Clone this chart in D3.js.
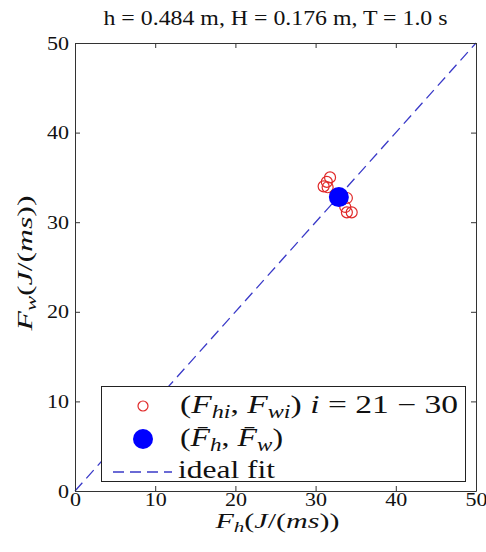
<!DOCTYPE html>
<html><head><meta charset="utf-8">
<script src="https://cdn.jsdelivr.net/npm/d3@7"></script>
<style>body{margin:0;background:#fff}svg{display:block}</style>
</head><body>
<script>
const titleText = "h = 0.484 m, H = 0.176 m, T = 1.0 s";
const ticks = [0, 10, 20, 30, 40, 50];
const fh = [31.8, 31.4, 31.0, 31.5, 33.9, 33.7, 33.9, 34.5, 32.5, 33.0];
const fw = [35.0, 34.5, 34.0, 33.9, 32.7, 31.7, 31.1, 31.1, 33.1, 32.5];
const meanFh = [32.9];
const meanFw = [32.8];
const idealFit = [[0, 0], [50, 50]];

const W = 486, H = 552;
const m = {l: 75, r: 10, t: 43, b: 61};
const svg = d3.select("body").append("svg").attr("width", W).attr("height", H);
const x = d3.scaleLinear().domain([0, 50]).range([m.l, W - m.r]);
const y = d3.scaleLinear().domain([0, 50]).range([H - m.b, m.t]);
const serif = "Liberation Serif, Tinos, Times New Roman, DejaVu Serif, serif";

// title
svg.append("text").attr("x", (x(0) + x(50)) / 2).attr("y", 25)
  .attr("text-anchor", "middle").style("font-family", serif).attr("font-size", 22)
  .attr("textLength", 344).attr("lengthAdjust", "spacingAndGlyphs")
  .attr("fill", "#111").text(titleText);

// ideal fit line
svg.append("path").datum(idealFit)
  .attr("d", d3.line().x(d => x(d[0])).y(d => y(d[1])))
  .attr("stroke", "#3a3ac8").attr("stroke-width", 1.3).attr("fill", "none")
  .attr("stroke-dasharray", "11,6");

// data
const pts = fh.map((v, i) => [v, fw[i]]);
svg.append("g").selectAll("circle").data(pts).join("circle")
  .attr("cx", d => x(d[0])).attr("cy", d => y(d[1])).attr("r", 5.5)
  .attr("fill", "none").attr("stroke", "#e02a2a").attr("stroke-width", 1.2);
svg.append("g").selectAll("circle").data(meanFh.map((v, i) => [v, meanFw[i]])).join("circle")
  .attr("cx", d => x(d[0])).attr("cy", d => y(d[1])).attr("r", 10)
  .attr("fill", "#0000ff");

// axes
const tk = 5;
const axB = svg.append("g").attr("transform", `translate(0,${y(0)})`)
  .call(d3.axisBottom(x).tickValues(ticks).tickSizeInner(-tk).tickSizeOuter(0).tickPadding(1));
const axL = svg.append("g").attr("transform", `translate(${x(0)},0)`)
  .call(d3.axisLeft(y).tickValues(ticks).tickSizeInner(-tk).tickSizeOuter(0).tickPadding(6));
const axT = svg.append("g").attr("transform", `translate(0,${y(50)})`)
  .call(d3.axisTop(x).tickValues(ticks).tickSizeInner(-tk).tickSizeOuter(0).tickFormat(""));
const axR = svg.append("g").attr("transform", `translate(${x(50)},0)`)
  .call(d3.axisRight(y).tickValues(ticks).tickSizeInner(-tk).tickSizeOuter(0).tickFormat(""));
[axB, axL, axT, axR].forEach(a => {
  a.attr("font-family", null);
  a.select(".domain").attr("stroke", "#333");
  a.selectAll(".tick line").attr("stroke", "#333");
  a.selectAll("text").style("font-family", serif).attr("font-size", 19).attr("fill", "#111")
    .attr("textLength", function() { return this.textContent.length * 11; })
    .attr("lengthAdjust", "spacingAndGlyphs");
});
axB.selectAll("text").attr("dy", "0.71em");

// axis labels
const xl = svg.append("text").attr("x", (x(0) + x(50)) / 2 + 2).attr("y", 528)
  .attr("text-anchor", "middle").style("font-family", serif).attr("font-size", 20).attr("fill", "#111")
  .attr("textLength", 124).attr("lengthAdjust", "spacingAndGlyphs");
xl.append("tspan").attr("font-style", "italic").text("F");
xl.append("tspan").attr("font-style", "italic").attr("font-size", 14).attr("dy", 4).text("h");
xl.append("tspan").attr("dy", -4).text("(");
xl.append("tspan").attr("font-style", "italic").text("J");
xl.append("tspan").text("/(");
xl.append("tspan").attr("font-style", "italic").text("ms");
xl.append("tspan").text("))");

const yl = svg.append("text").attr("transform", `translate(32,${(y(0) + y(50)) / 2 - 4}) rotate(-90)`)
  .attr("text-anchor", "middle").style("font-family", serif).attr("font-size", 21).attr("fill", "#111")
  .attr("textLength", 135).attr("lengthAdjust", "spacingAndGlyphs");
yl.append("tspan").attr("font-style", "italic").text("F");
yl.append("tspan").attr("font-style", "italic").attr("font-size", 15).attr("dy", 4).text("w");
yl.append("tspan").attr("dy", -4).text("(");
yl.append("tspan").attr("font-style", "italic").text("J");
yl.append("tspan").text("/(");
yl.append("tspan").attr("font-style", "italic").text("ms");
yl.append("tspan").text("))");

// legend
const lg = svg.append("g");
lg.append("rect").attr("x", 101.5).attr("y", 386.5).attr("width", 364).attr("height", 95)
  .attr("fill", "#fff").attr("stroke", "#222").attr("stroke-width", 1);
const rows = [406, 439, 472];
const base = [413, 445.5, 478];
lg.append("circle").attr("cx", 143).attr("cy", rows[0]).attr("r", 5)
  .attr("fill", "none").attr("stroke", "#e02a2a").attr("stroke-width", 1.2);
lg.append("circle").attr("cx", 143).attr("cy", rows[1]).attr("r", 10).attr("fill", "#0000ff");
lg.append("line").attr("x1", 113).attr("x2", 172).attr("y1", rows[2]).attr("y2", rows[2])
  .attr("stroke", "#3a3ac8").attr("stroke-width", 1.3).attr("stroke-dasharray", "11,6");

const fs = 25;
const t1 = lg.append("text").attr("x", 180).attr("y", base[0])
  .style("font-family", serif).attr("font-size", fs).attr("fill", "#111")
  .attr("textLength", 278).attr("lengthAdjust", "spacingAndGlyphs");
t1.append("tspan").text("(");
t1.append("tspan").attr("font-style", "italic").text("F");
t1.append("tspan").attr("font-style", "italic").attr("font-size", 18).attr("dy", 5).text("hi");
t1.append("tspan").attr("dy", -5).text(", ");
t1.append("tspan").attr("font-style", "italic").text("F");
t1.append("tspan").attr("font-style", "italic").attr("font-size", 18).attr("dy", 5).text("wi");
t1.append("tspan").attr("dy", -5).text(") ");
t1.append("tspan").attr("font-style", "italic").text("i");
t1.append("tspan").text(" = 21 \u2212 30");

const t2 = lg.append("text").attr("x", 180).attr("y", base[1])
  .style("font-family", serif).attr("font-size", fs).attr("fill", "#111")
  .attr("textLength", 103).attr("lengthAdjust", "spacingAndGlyphs");
t2.append("tspan").text("(");
t2.append("tspan").attr("font-style", "italic").text("F\u0304");
t2.append("tspan").attr("font-style", "italic").attr("font-size", 18).attr("dy", 5).text("h");
t2.append("tspan").attr("dy", -5).text(", ");
t2.append("tspan").attr("font-style", "italic").text("F\u0304");
t2.append("tspan").attr("font-style", "italic").attr("font-size", 18).attr("dy", 5).text("w");
t2.append("tspan").attr("dy", -5).text(")");

lg.append("text").attr("x", 178).attr("y", base[2])
  .style("font-family", serif).attr("font-size", fs).attr("fill", "#111")
  .attr("textLength", 97).attr("lengthAdjust", "spacingAndGlyphs").text("ideal fit");
</script>
</body></html>
